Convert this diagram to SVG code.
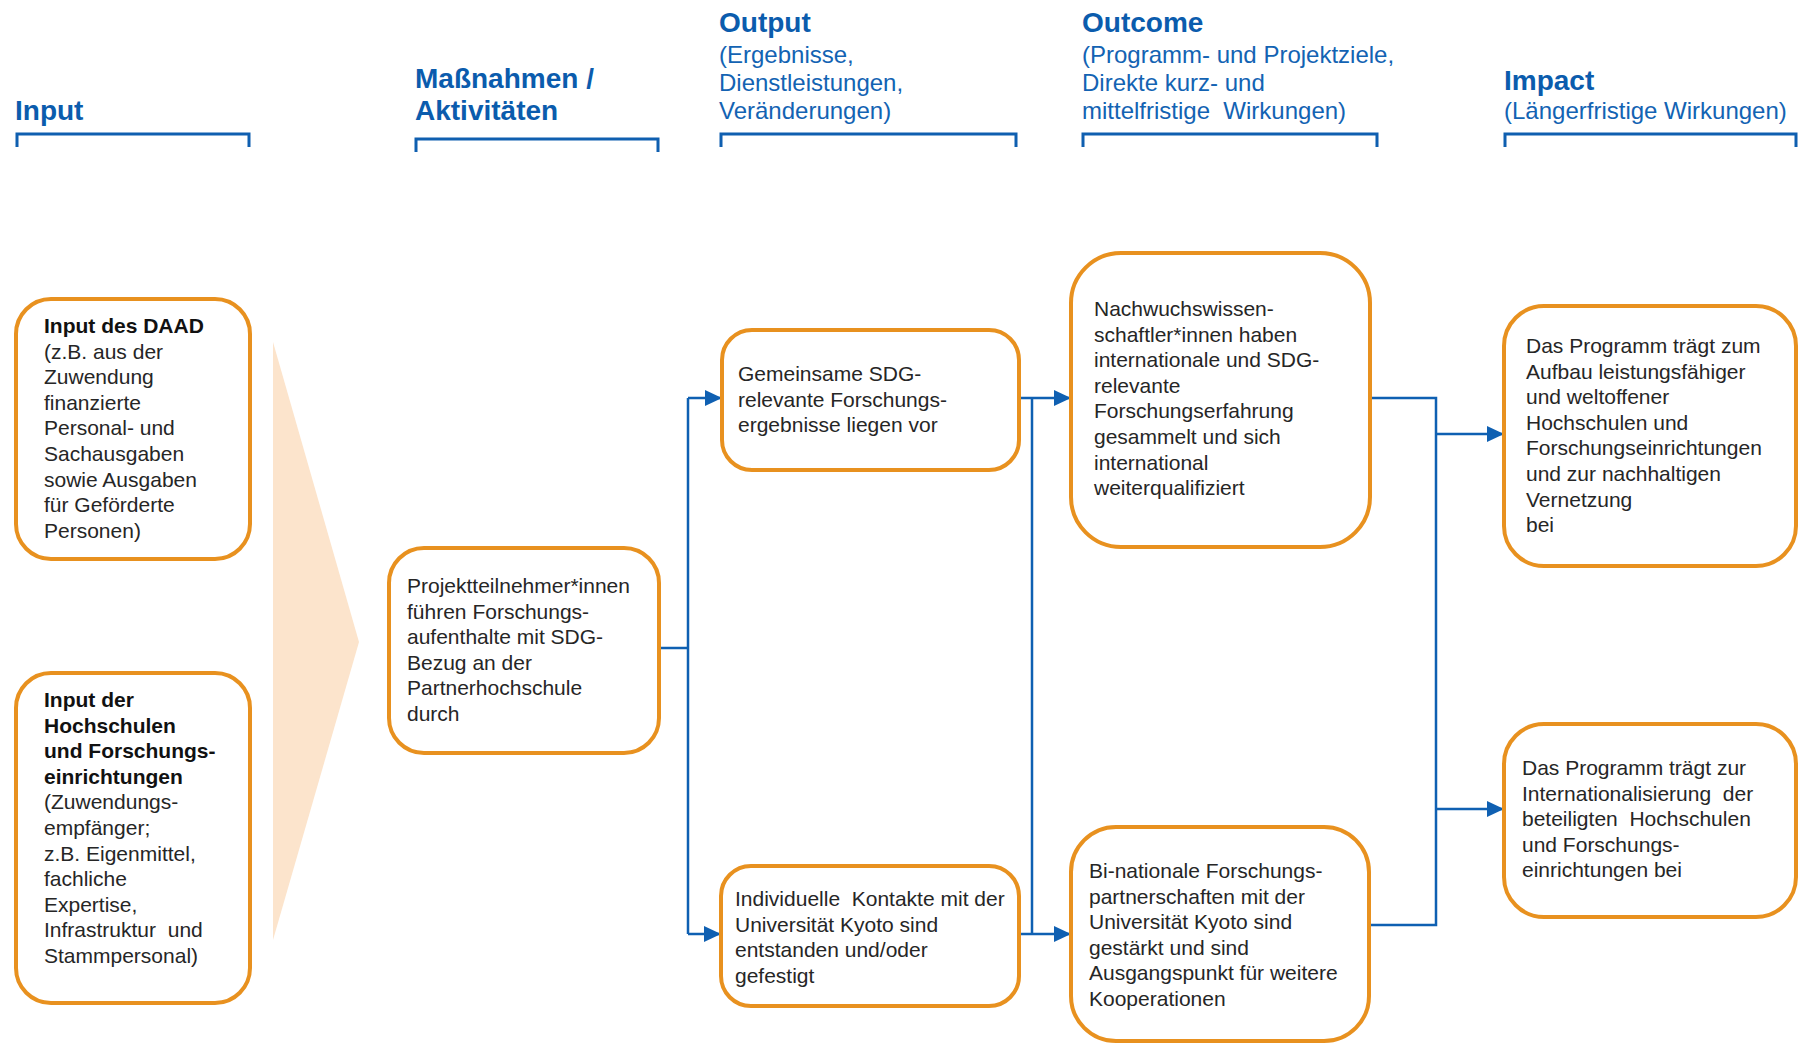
<svg xmlns="http://www.w3.org/2000/svg" width="1798" height="1043" viewBox="0 0 1798 1043">
<defs>
<marker id="arr" markerUnits="userSpaceOnUse" markerWidth="20" markerHeight="18" refX="17" refY="8" orient="auto">
<path d="M0,0 L17,8 L0,16 z" fill="#0F60B2"/>
</marker>
<style>
.hd{font-family:"Liberation Sans",Arial,sans-serif;font-weight:bold;font-size:28px;fill:#0B5CAD}
.sub{font-family:"Liberation Sans",Arial,sans-serif;font-size:24px;fill:#1363B3;white-space:pre}
.br{fill:none;stroke:#0F5FB0;stroke-width:3}
.box{fill:#fff;stroke:#E8911F;stroke-width:4}
.t{font-family:"Liberation Sans",Arial,sans-serif;font-size:21px;fill:#262626;white-space:pre}
.b{font-weight:bold;fill:#111}
.con{fill:none;stroke:#0F60B2;stroke-width:2.5}
.ar{marker-end:url(#arr)}
</style>
</defs>
<rect width="1798" height="1043" fill="#fff"/>

<g id="headers">
<text class="hd" x="15" y="120">Input</text>
<path class="br" d="M17,147 V134 H249 V147"/>
<text class="hd" x="415" y="88">Maßnahmen /</text>
<text class="hd" x="415" y="120">Aktivitäten</text>
<path class="br" d="M416,152 V139 H658 V152"/>
<text class="hd" x="719" y="32">Output</text>
<text class="sub" x="719" y="63">(Ergebnisse,</text>
<text class="sub" x="719" y="91">Dienstleistungen,</text>
<text class="sub" x="719" y="119">Veränderungen)</text>
<path class="br" d="M721,147 V134 H1016 V147"/>
<text class="hd" x="1082" y="32">Outcome</text>
<text class="sub" x="1082" y="63">(Programm- und Projektziele,</text>
<text class="sub" x="1082" y="91">Direkte kurz- und</text>
<text class="sub" x="1082" y="119">mittelfristige  Wirkungen)</text>
<path class="br" d="M1083,147 V134 H1377 V147"/>
<text class="hd" x="1504" y="90">Impact</text>
<text class="sub" x="1504" y="119">(Längerfristige Wirkungen)</text>
<path class="br" d="M1505,147 V134 H1796 V147"/>
</g>

<polygon id="input-arrow" points="273,342 359,642 273,940" fill="#FCE4CC"/>

<g id="connectors">
<path class="con" d="M659,648 H688"/>
<path class="con" d="M688,398 V934"/>
<path class="con ar" d="M688,398 H722"/>
<path class="con ar" d="M688,934 H721"/>
<path class="con ar" d="M1019,398 H1071"/>
<path class="con" d="M1032,398 V934"/>
<path class="con ar" d="M1019,934 H1071"/>
<path class="con" d="M1370,398 H1436 V925 H1369"/>
<path class="con ar" d="M1436,434 H1504"/>
<path class="con ar" d="M1436,809 H1504"/>
</g>

<g id="input-daad">
<rect class="box" x="16" y="299" width="234" height="260" rx="35"/>
<text class="t" x="44" y="333"><tspan class="b">Input des DAAD</tspan><tspan x="44" dy="25.6">(z.B. aus der</tspan><tspan x="44" dy="25.6">Zuwendung</tspan><tspan x="44" dy="25.6">finanzierte</tspan><tspan x="44" dy="25.6">Personal- und</tspan><tspan x="44" dy="25.6">Sachausgaben</tspan><tspan x="44" dy="25.6">sowie Ausgaben</tspan><tspan x="44" dy="25.6">für Geförderte</tspan><tspan x="44" dy="25.6">Personen)</tspan></text>
</g>

<g id="input-hochschulen">
<rect class="box" x="16" y="673" width="234" height="330" rx="35"/>
<text class="t" x="44" y="707"><tspan class="b">Input der</tspan><tspan class="b" x="44" dy="25.6">Hochschulen</tspan><tspan class="b" x="44" dy="25.6">und Forschungs-</tspan><tspan class="b" x="44" dy="25.6">einrichtungen</tspan><tspan x="44" dy="25.6">(Zuwendungs-</tspan><tspan x="44" dy="25.6">empfänger;</tspan><tspan x="44" dy="25.6">z.B. Eigenmittel,</tspan><tspan x="44" dy="25.6">fachliche</tspan><tspan x="44" dy="25.6">Expertise,</tspan><tspan x="44" dy="25.6">Infrastruktur  und</tspan><tspan x="44" dy="25.6">Stammpersonal)</tspan></text>
</g>

<g id="massnahmen">
<rect class="box" x="389" y="548" width="270" height="205" rx="35"/>
<text class="t" x="407" y="593"><tspan>Projektteilnehmer*innen</tspan><tspan x="407" dy="25.6">führen Forschungs-</tspan><tspan x="407" dy="25.6">aufenthalte mit SDG-</tspan><tspan x="407" dy="25.6">Bezug an der</tspan><tspan x="407" dy="25.6">Partnerhochschule</tspan><tspan x="407" dy="25.6">durch</tspan></text>
</g>

<g id="output-1">
<rect class="box" x="722" y="330" width="297" height="140" rx="30"/>
<text class="t" x="738" y="381"><tspan>Gemeinsame SDG-</tspan><tspan x="738" dy="25.6">relevante Forschungs-</tspan><tspan x="738" dy="25.6">ergebnisse liegen vor</tspan></text>
</g>

<g id="output-2">
<rect class="box" x="721" y="866" width="298" height="140" rx="30"/>
<text class="t" x="735" y="906"><tspan>Individuelle  Kontakte mit der</tspan><tspan x="735" dy="25.6">Universität Kyoto sind</tspan><tspan x="735" dy="25.6">entstanden und/oder</tspan><tspan x="735" dy="25.6">gefestigt</tspan></text>
</g>

<g id="outcome-1">
<rect class="box" x="1071" y="253" width="299" height="294" rx="50"/>
<text class="t" x="1094" y="316"><tspan>Nachwuchswissen-</tspan><tspan x="1094" dy="25.6">schaftler*innen haben</tspan><tspan x="1094" dy="25.6">internationale und SDG-</tspan><tspan x="1094" dy="25.6">relevante</tspan><tspan x="1094" dy="25.6">Forschungserfahrung</tspan><tspan x="1094" dy="25.6">gesammelt und sich</tspan><tspan x="1094" dy="25.6">international</tspan><tspan x="1094" dy="25.6">weiterqualifiziert</tspan></text>
</g>

<g id="outcome-2">
<rect class="box" x="1071" y="827" width="298" height="214" rx="45"/>
<text class="t" x="1089" y="878"><tspan>Bi-nationale Forschungs-</tspan><tspan x="1089" dy="25.6">partnerschaften mit der</tspan><tspan x="1089" dy="25.6">Universität Kyoto sind</tspan><tspan x="1089" dy="25.6">gestärkt und sind</tspan><tspan x="1089" dy="25.6">Ausgangspunkt für weitere</tspan><tspan x="1089" dy="25.6">Kooperationen</tspan></text>
</g>

<g id="impact-1">
<rect class="box" x="1504" y="306" width="292" height="260" rx="40"/>
<text class="t" x="1526" y="353"><tspan>Das Programm trägt zum</tspan><tspan x="1526" dy="25.6">Aufbau leistungsfähiger</tspan><tspan x="1526" dy="25.6">und weltoffener</tspan><tspan x="1526" dy="25.6">Hochschulen und</tspan><tspan x="1526" dy="25.6">Forschungseinrichtungen</tspan><tspan x="1526" dy="25.6">und zur nachhaltigen</tspan><tspan x="1526" dy="25.6">Vernetzung</tspan><tspan x="1526" dy="25.6">bei</tspan></text>
</g>

<g id="impact-2">
<rect class="box" x="1504" y="724" width="292" height="193" rx="40"/>
<text class="t" x="1522" y="775"><tspan>Das Programm trägt zur</tspan><tspan x="1522" dy="25.6">Internationalisierung  der</tspan><tspan x="1522" dy="25.6">beteiligten  Hochschulen</tspan><tspan x="1522" dy="25.6">und Forschungs-</tspan><tspan x="1522" dy="25.6">einrichtungen bei</tspan></text>
</g>
</svg>
